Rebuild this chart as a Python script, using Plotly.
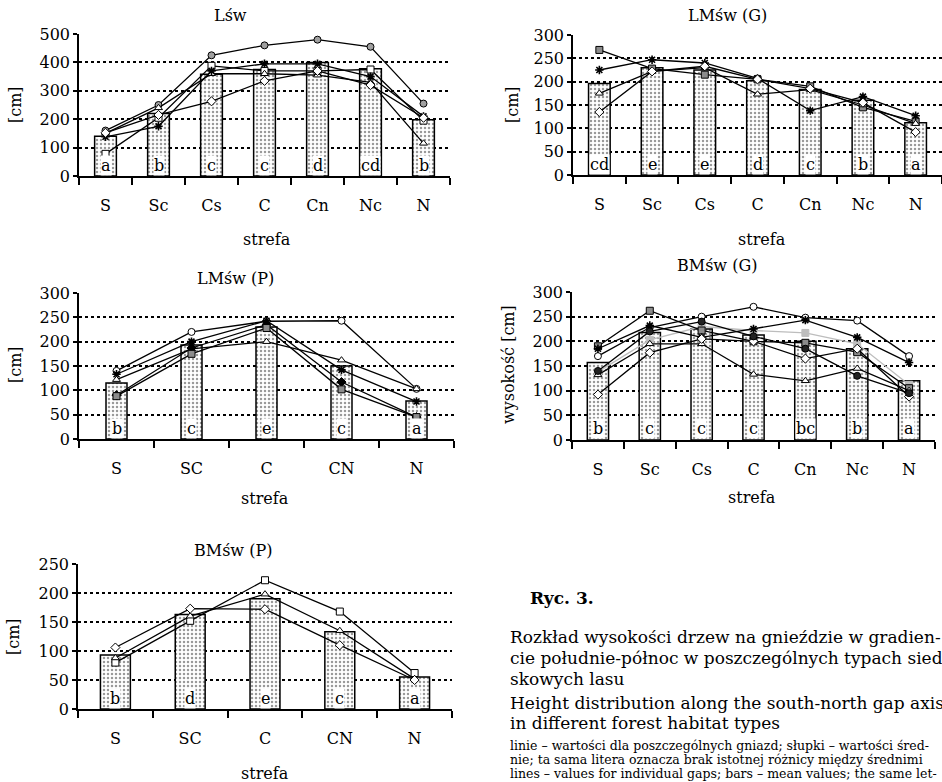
import plotly.graph_objects as go

W, H = 942, 782
FONT = "DejaVu Serif"

# ---------------- data ----------------
cats7 = ["S", "Sc", "Cs", "C", "Cn", "Nc", "N"]
cats5 = ["S", "SC", "C", "CN", "N"]

# Lśw
lsw_mean = [140, 220, 358, 375, 400, 378, 198]
lsw_letters = ["a", "b", "c", "c", "d", "cd", "b"]
lsw_circle = [160, 250, 425, 460, 480, 455, 255]
lsw_square = [78, 205, 388, 370, 370, 375, 195]
lsw_triangle = [150, 240, 360, 360, 355, 330, 115]
lsw_star = [138, 175, 370, 395, 395, 350, 210]
lsw_diamond = [152, 215, 263, 335, 370, 320, 205]

# LMśw (G)
lmg_mean = [196, 230, 225, 202, 183, 160, 112]
lmg_letters = ["cd", "e", "e", "d", "c", "b", "a"]
lmg_square = [268, 228, 215, 205, 190, 145, 115]
lmg_star = [225, 247, 240, 207, 138, 168, 127]
lmg_triangle = [175, 222, 230, 173, 183, 150, 110]
lmg_diamond = [135, 222, 233, 205, 185, 155, 92]

# LMśw (P)
lmp_mean = [115, 193, 230, 150, 78]
lmp_letters = ["b", "c", "e", "c", "a"]
lmp_circle = [140, 220, 242, 243, 103]
lmp_star = [133, 200, 243, 142, 77]
lmp_triangle = [122, 185, 200, 162, 103]
lmp_diamond = [90, 187, 235, 117, 45]
lmp_square = [88, 175, 228, 102, 45]

# BMśw (G)
bmg_mean = [157, 218, 225, 213, 200, 185, 120]
bmg_letters = ["b", "c", "c", "c", "bc", "b", "a"]
bmg_circle = [170, 228, 250, 270, 248, 242, 170]
bmg_square = [190, 262, 222, 200, 197, 178, 105]
bmg_star = [185, 232, 208, 225, 243, 208, 157]
bmg_lightgray = [138, 203, 230, 222, 217, 195, 112]
bmg_triangle = [132, 195, 195, 133, 120, 145, 100]
bmg_diamond = [92, 177, 205, 200, 165, 185, 88]
bmg_dot = [140, 220, 240, 210, 185, 130, 95]

# BMśw (P)
bmp_mean = [93, 163, 190, 133, 55]
bmp_letters = ["b", "d", "e", "c", "a"]
bmp_square = [80, 152, 222, 168, 62]
bmp_triangle = [88, 160, 198, 135, 52]
bmp_diamond = [106, 173, 172, 110, 50]

# marker styles
S_CIRCLE_G = dict(symbol="circle", color="#a0a0a0")
S_CIRCLE_W = dict(symbol="circle", color="white")
S_SQUARE_W = dict(symbol="square", color="white")
S_SQUARE_G = dict(symbol="square", color="#8c8c8c")
S_TRI = dict(symbol="triangle-up", color="white")
S_STAR = dict(symbol="asterisk-open", color="black")
S_DIAM = dict(symbol="diamond", color="white")
S_DIAM_B = dict(symbol="diamond", color="black")
S_DOT = dict(symbol="circle", color="#222222")

panels = [
    dict(title="Lśw", ytitle="[cm]", cats=cats7, mean=lsw_mean, letters=lsw_letters,
         ymax=500, dtick=100, bw=0.41,
         series=[(lsw_circle, S_CIRCLE_G, "black"), (lsw_square, S_SQUARE_W, "black"),
                 (lsw_triangle, S_TRI, "black"), (lsw_star, S_STAR, "black"),
                 (lsw_diamond, S_DIAM, "black")],
         px=(79, 450), py=(34, 176),
         tpos=(230, 15), spos=(267, 240), ypos=(15, 105)),
    dict(title="LMśw (G)", ytitle="[cm]", cats=cats7, mean=lmg_mean, letters=lmg_letters,
         ymax=300, dtick=50, bw=0.41,
         series=[(lmg_square, S_SQUARE_G, "black"), (lmg_star, S_STAR, "black"),
                 (lmg_triangle, S_TRI, "black"), (lmg_diamond, S_DIAM, "black")],
         px=(573, 943), py=(35, 175),
         tpos=(727, 15), spos=(762, 240), ypos=(512, 105)),
    dict(title="LMśw (P)", ytitle="[cm]", cats=cats5, mean=lmp_mean, letters=lmp_letters,
         ymax=300, dtick=50, bw=0.28,
         series=[(lmp_circle, S_CIRCLE_W, "black"), (lmp_star, S_STAR, "black"),
                 (lmp_triangle, S_TRI, "black"), (lmp_diamond, S_DIAM_B, "black"),
                 (lmp_square, S_SQUARE_G, "black")],
         px=(79, 454), py=(293, 439),
         tpos=(235, 278), spos=(265, 498), ypos=(15, 365)),
    dict(title="BMśw (G)", ytitle="wysokość [cm]", cats=cats7, mean=bmg_mean, letters=bmg_letters,
         ymax=300, dtick=50, bw=0.41,
         series=[(bmg_lightgray, dict(symbol="square", color="#bdbdbd"), "#bdbdbd"),
                 (bmg_circle, S_CIRCLE_W, "black"), (bmg_square, S_SQUARE_G, "black"),
                 (bmg_star, S_STAR, "black"), (bmg_triangle, S_TRI, "black"),
                 (bmg_diamond, S_DIAM, "black"), (bmg_dot, S_DOT, "black")],
         px=(572, 935), py=(292, 440),
         tpos=(717, 265), spos=(752, 497), ypos=(508, 365)),
    dict(title="BMśw (P)", ytitle="[cm]", cats=cats5, mean=bmp_mean, letters=bmp_letters,
         ymax=250, dtick=50, bw=0.40,
         series=[(bmp_square, S_SQUARE_W, "black"), (bmp_triangle, S_TRI, "black"),
                 (bmp_diamond, S_DIAM, "black")],
         px=(78, 452), py=(564, 709),
         tpos=(233, 550), spos=(265, 773), ypos=(13, 637)),
]


def fx(p):
    return p / W


def fy(p):
    return 1 - p / H


fig = go.Figure()
annotations = []
layout = dict(
    width=W, height=H, margin=dict(l=0, r=0, t=0, b=0, autoexpand=False),
    paper_bgcolor="white", plot_bgcolor="white", showlegend=False,
    font=dict(family=FONT, size=16, color="black"),
)
TICKFONT = dict(family=FONT, size=16, color="black")
LABFONT = dict(family=FONT, size=16, color="black")

for i, p in enumerate(panels, start=1):
    xa = "x" if i == 1 else f"x{i}"
    ya = "y" if i == 1 else f"y{i}"
    xkey = "xaxis" if i == 1 else f"xaxis{i}"
    ykey = "yaxis" if i == 1 else f"yaxis{i}"
    n = len(p["cats"])
    layout[xkey] = dict(
        domain=[fx(p["px"][0]), min(fx(p["px"][1]), 1.0)], anchor=ya, automargin=False,
        type="category", categoryorder="array", categoryarray=p["cats"],
        range=[-0.5, n - 0.5], showgrid=False, zeroline=False,
        showline=True, linecolor="black", linewidth=1.5,
        ticks="outside", tickson="boundaries", ticklen=7, tickwidth=1.5, tickcolor="black",
        ticklabelstandoff=14, tickfont=TICKFONT,
    )
    layout[ykey] = dict(
        domain=[fy(p["py"][1]), fy(p["py"][0])], anchor=xa, automargin=False,
        range=[0, p["ymax"]], dtick=p["dtick"], tick0=0,
        showgrid=True, gridcolor="black", gridwidth=1.5, griddash="dot",
        zeroline=False, showline=True, linecolor="black", linewidth=1.5,
        ticks="outside", ticklen=4, tickwidth=1.5, tickcolor="black",
        tickfont=TICKFONT,
    )
    fig.add_trace(go.Bar(
        x=p["cats"], y=p["mean"], width=p["bw"], xaxis=xa, yaxis=ya,
        marker=dict(color="white", line=dict(color="black", width=1.5),
                    pattern=dict(shape=".", fgcolor="#333333", bgcolor="white",
                                 size=4, solidity=0.3)),
        hoverinfo="skip",
    ))
    for vals, sty, lc in p["series"]:
        mline = dict(color="black" if lc == "black" else lc, width=1)
        if sty["symbol"].startswith("asterisk"):
            mline = dict(color="black", width=1.6)
        fig.add_trace(go.Scatter(
            x=p["cats"], y=vals, xaxis=xa, yaxis=ya, mode="lines+markers",
            line=dict(color=lc, width=1.3),
            marker=dict(symbol=sty["symbol"], color=sty["color"], size=7, line=mline),
            hoverinfo="skip",
        ))
    for c, let in zip(p["cats"], p["letters"]):
        annotations.append(dict(
            x=c, y=p["ymax"] * 0.075, xref=xa, yref=ya, text=let, showarrow=False,
            font=LABFONT, bgcolor="white", borderpad=0, yanchor="middle",
        ))
    annotations.append(dict(x=fx(p["tpos"][0]), y=fy(p["tpos"][1]), xref="paper", yref="paper",
                            text=p["title"], showarrow=False, xanchor="center", yanchor="middle",
                            font=LABFONT))
    annotations.append(dict(x=fx(p["spos"][0]), y=fy(p["spos"][1]), xref="paper", yref="paper",
                            text="strefa", showarrow=False, xanchor="center", yanchor="middle",
                            font=LABFONT))
    annotations.append(dict(x=fx(p["ypos"][0]), y=fy(p["ypos"][1]), xref="paper", yref="paper",
                            text=p["ytitle"], showarrow=False, textangle=-90,
                            xanchor="center", yanchor="middle", font=LABFONT))

# caption block
caption_big = [
    ("Rozkład wysokości drzew na gnieździe w gradien-", 637),
    ("cie południe-północ w poszczególnych typach siedli-", 658),
    ("skowych lasu", 679),
    ("Height distribution along the south-north gap axis", 703),
    ("in different forest habitat types", 723),
]
caption_small = [
    ("linie – wartości dla poszczególnych gniazd; słupki – wartości śred-", 745),
    ("nie; ta sama litera oznacza brak istotnej różnicy między średnimi", 759),
    ("lines – values for individual gaps; bars – mean values; the same let-", 773),
    ("ter indicates no significant difference between means", 788),
]
annotations.append(dict(x=fx(528), y=fy(598), xref="paper", yref="paper", text="<b>Ryc. 3.</b>",
                        showarrow=False, xanchor="left", yanchor="middle",
                        font=dict(family=FONT, size=17, color="black")))
for t, yy in caption_big:
    annotations.append(dict(x=fx(508), y=fy(yy), xref="paper", yref="paper", text=t,
                            showarrow=False, xanchor="left", yanchor="middle",
                            font=dict(family=FONT, size=17, color="black")))
for t, yy in caption_small:
    annotations.append(dict(x=fx(508), y=fy(yy), xref="paper", yref="paper", text=t,
                            showarrow=False, xanchor="left", yanchor="middle",
                            font=dict(family=FONT, size=12.5, color="black")))

layout["annotations"] = annotations
fig.update_layout(**layout)
fig.write_html("out.html", config={"displayModeBar": False},
               post_script="document.body.style.margin='0';")
